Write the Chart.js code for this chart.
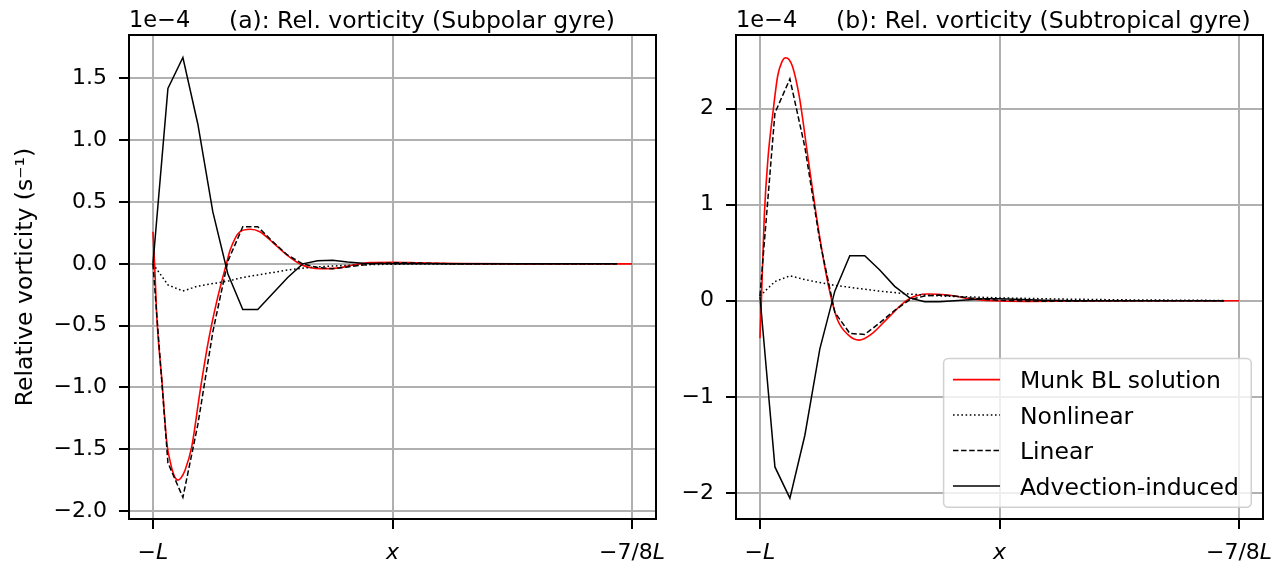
<!DOCTYPE html>
<html lang="en">
<head>
<meta charset="UTF-8">
<title>Relative vorticity</title>
<script src="https://cdn.jsdelivr.net/npm/chart.js@4.4.1/dist/chart.umd.min.js"></script>
<style>
    body {
        margin: 0;
        background: #fff;
    }
    .wrap {
        position: relative;
        width: 1284px;
        height: 568px;
    }
    .panel {
        position: absolute;
        top: 0;
        height: 568px;
    }
    #panelA { left: 0; width: 690px; }
    #panelB { left: 660px; width: 624px; }
</style>
</head>
<body>
<div class="wrap">
    <div class="panel" id="panelA"><canvas id="chartA"></canvas></div>
    <div class="panel" id="panelB"><canvas id="chartB"></canvas></div>
</div>
<script>
    // Model grid, 0 = -L and 1 = -7/8 L (vorticity in units of 1e-4 s^-1)
    const gridX = [0, 0.03125, 0.0625, 0.09375, 0.125, 0.15625, 0.1875, 0.21875,
        0.25, 0.28125, 0.3125, 0.34375, 0.375, 0.40625, 0.4375, 0.46875,
        0.5, 0.53125, 0.5625, 0.59375, 0.625, 0.65625, 0.6875, 0.71875,
        0.75, 0.78125, 0.8125, 0.84375, 0.875, 0.90625, 0.9375, 0.96875];

    // (a) subpolar gyre
    const nonlinearA = [0, -0.17, -0.22, -0.18, -0.16, -0.14, -0.11, -0.09,
        -0.07, -0.05, -0.035, -0.025, -0.018, -0.012, -0.008, -0.005,
        -0.003, -0.002, -0.002, -0.001, -0.001, -0.001, 0, 0,
        0, 0, 0, 0, 0, 0, 0, 0];
    const linearA = [0, -1.61, -1.89, -1.30, -0.55, 0.02, 0.30, 0.30,
        0.18, 0.07, 0.0, -0.03, -0.04, -0.025, -0.01, 0.003,
        0.008, 0.008, 0.005, 0.003, 0.001, 0, 0, 0,
        0, 0, 0, 0, 0, 0, 0, 0];
    const advectionA = [0, 1.42, 1.67, 1.13, 0.42, -0.08, -0.37, -0.37,
        -0.24, -0.11, 0.0, 0.025, 0.03, 0.015, 0.005, 0.002,
        0.001, 0, 0, 0, 0, 0, 0, 0,
        0, 0, 0, 0, 0, 0, 0, 0];
    const munkXA = [0, 0.004, 0.008, 0.019, 0.029, 0.036, 0.042, 0.047, 0.052, 0.058,
        0.067, 0.081, 0.098, 0.115, 0.134, 0.154, 0.161, 0.182, 0.203, 0.223,
        0.251, 0.280, 0.311, 0.349, 0.384, 0.418, 0.453, 0.501, 0.557, 0.641, 0.766, 1.0];
    const munkYA = [0.26, -0.05, -0.43, -0.96, -1.45, -1.60, -1.69, -1.735, -1.75, -1.735,
        -1.67, -1.48, -1.04, -0.64, -0.29, 0.01, 0.11, 0.26, 0.28, 0.26,
        0.17, 0.07, -0.01, -0.04, -0.035, -0.01, 0.01, 0.013, 0.008, 0.002, 0, 0];

    // (b) subtropical gyre
    const nonlinearB = [0.05, 0.20, 0.26, 0.22, 0.19, 0.16, 0.14, 0.12,
        0.10, 0.085, 0.07, 0.06, 0.05, 0.045, 0.04, 0.035,
        0.03, 0.027, 0.024, 0.021, 0.018, 0.016, 0.014, 0.012,
        0.01, 0.009, 0.008, 0.007, 0.006, 0.005, 0.004, 0.003];
    const linearB = [0.05, 1.955, 2.31, 1.60, 0.62, -0.12, -0.34, -0.35,
        -0.23, -0.10, 0.01, 0.05, 0.06, 0.05, 0.03, 0.015,
        0.005, 0.0, -0.003, -0.004, -0.003, -0.002, -0.001, 0,
        0, 0, 0, 0, 0, 0, 0, 0];
    const advectionB = [0.045, -1.73, -2.055, -1.40, -0.50, 0.10, 0.47, 0.47,
        0.32, 0.15, 0.03, -0.01, -0.01, 0.0, 0.01, 0.02,
        0.02, 0.015, 0.01, 0.005, 0.003, 0.001, 0, 0,
        0, 0, 0, 0, 0, 0, 0, 0];
    const munkXB = [0, 0.003, 0.009, 0.017, 0.027, 0.037, 0.046, 0.054, 0.061, 0.068,
        0.082, 0.100, 0.117, 0.134, 0.148, 0.162, 0.183, 0.207, 0.232, 0.267,
        0.308, 0.350, 0.392, 0.440, 0.50, 0.56, 0.65, 0.8, 1.0];
    const munkYB = [-0.39, 0.0, 0.88, 1.50, 1.955, 2.34, 2.49, 2.53, 2.51, 2.44,
        2.13, 1.50, 0.91, 0.39, 0.045, -0.20, -0.35, -0.41, -0.35, -0.18,
        0.01, 0.07, 0.06, 0.02, -0.003, -0.006, -0.003, 0, 0];

    const seriesLabels = ['Munk BL solution', 'Nonlinear', 'Linear', 'Advection-induced'];
    const xTicks = [0, 0.5, 1];
    const xTickParts = [[['\u2212', false], ['L', true]], [['x', true]], [['\u22127/8', false], ['L', true]]];
    const yTicksA = [-2.0, -1.5, -1.0, -0.5, 0.0, 0.5, 1.0, 1.5];
    const yTicksB = [-2, -1, 0, 1, 2];

    const FONT = '"DejaVu Sans", sans-serif';

    function pts(xs, ys) {
        return xs.map((x, i) => ({ x: x, y: ys[i] }));
    }

    function fmtTick(v, digits) {
        const s = (Math.abs(v) < 1e-9 ? 0 : v).toFixed(digits);
        return s.replace('-', '\u2212');
    }

    // draws text made of upright and italic runs, centred on cx
    function drawRuns(ctx, runs, cx, y, size) {
        const fonts = runs.map(r => (r[1] ? 'italic ' : '') + size + 'px ' + FONT);
        const widths = runs.map((r, i) => { ctx.font = fonts[i]; return ctx.measureText(r[0]).width; });
        let x = cx - widths.reduce((a, b) => a + b, 0) / 2;
        runs.forEach((r, i) => {
            ctx.font = fonts[i];
            ctx.fillText(r[0], x, y);
            x += widths[i];
        });
    }

    // frame, title, offset text, x tick labels and y label
    function panelDecor(info) {
        return {
            id: 'panelDecor',
            afterDraw(chart) {
                const ctx = chart.ctx, a = chart.chartArea, xs = chart.scales.x;
                ctx.save();
                ctx.strokeStyle = '#000';
                ctx.lineWidth = 2;
                ctx.strokeRect(a.left, a.top, a.right - a.left, a.bottom - a.top);

                ctx.fillStyle = '#000';
                ctx.textBaseline = 'alphabetic';
                ctx.textAlign = 'left';
                ctx.font = '23.5px ' + FONT;
                ctx.fillText(info.title, a.left + 100, 28);
                ctx.font = '22.5px ' + FONT;
                ctx.fillText('1e\u22124', a.left, 27);

                xTicks.forEach((v, i) => drawRuns(ctx, xTickParts[i], xs.getPixelForValue(v), a.bottom + 40, 22));

                if (info.ylabel) {
                    ctx.translate(31.5, (a.top + a.bottom) / 2);
                    ctx.rotate(-Math.PI / 2);
                    ctx.textAlign = 'center';
                    ctx.font = '23.5px ' + FONT;
                    ctx.fillText(info.ylabel, 0, 0);
                }
                ctx.restore();
            }
        };
    }

    // matplotlib-style legend box in the lower right corner
    const legendBox = {
        id: 'legendBox',
        afterDraw(chart) {
            const ctx = chart.ctx, a = chart.chartArea;
            const fs = 23.5, pad = 0.4 * fs, handle = 2 * fs, gap = 0.85 * fs;
            const rowH = 23.7, spacing = 0.5 * fs;
            const items = chart.data.datasets;
            ctx.save();
            ctx.font = fs + 'px ' + FONT;
            const tw = Math.max(...items.map(d => ctx.measureText(d.label).width));
            const w = 2 * pad + handle + gap + tw + 3;
            const h = 2 * pad + items.length * rowH + (items.length - 1) * spacing;
            const bx = a.right - 0.5 * fs - w, by = a.bottom - 0.5 * fs - h;
            ctx.beginPath();
            ctx.roundRect(bx, by, w, h, 0.2 * fs);
            ctx.fillStyle = 'rgba(255,255,255,0.8)';
            ctx.fill();
            ctx.strokeStyle = 'rgba(204,204,204,0.9)';
            ctx.lineWidth = 1.5;
            ctx.stroke();
            items.forEach((d, i) => {
                const cy = by + pad + rowH / 2 + i * (rowH + spacing);
                ctx.beginPath();
                ctx.setLineDash(d.borderDash || []);
                ctx.strokeStyle = d.borderColor;
                ctx.lineWidth = d.borderWidth;
                ctx.moveTo(bx + pad, cy);
                ctx.lineTo(bx + pad + handle, cy);
                ctx.stroke();
                ctx.setLineDash([]);
                ctx.fillStyle = '#000';
                ctx.textAlign = 'left';
                ctx.textBaseline = 'alphabetic';
                ctx.fillText(d.label, bx + pad + handle + gap, cy + 8.5);
            });
            ctx.restore();
        }
    };

    function makeDatasets(munkX, munkY, nonlinear, linear, advection) {
        return [{
            label: seriesLabels[0],
            data: pts(munkX, munkY),
            borderColor: '#ff0000',
            borderWidth: 1.6,
            cubicInterpolationMode: 'monotone',
            order: 4
        }, {
            label: seriesLabels[1],
            data: pts(gridX, nonlinear),
            borderColor: '#000000',
            borderWidth: 1.5,
            borderDash: [1.6, 2.6],
            order: 3
        }, {
            label: seriesLabels[2],
            data: pts(gridX, linear),
            borderColor: '#000000',
            borderWidth: 1.5,
            borderDash: [5.5, 2.6],
            order: 2
        }, {
            label: seriesLabels[3],
            data: pts(gridX, advection),
            borderColor: '#000000',
            borderWidth: 1.5,
            order: 1
        }];
    }

    function makeOptions(yMin, yMax, yTicks, digits, axisWidth, padRight) {
        const grid = { color: '#b0b0b0', lineWidth: 2, tickColor: '#000', tickWidth: 2, tickLength: 10 };
        return {
            responsive: true,
            maintainAspectRatio: false,
            animation: false,
            events: [],
            layout: { padding: { top: 35, right: padRight, bottom: 0, left: 0 } },
            elements: { point: { radius: 0 }, line: { tension: 0 } },
            plugins: { legend: { display: false }, tooltip: { enabled: false }, title: { display: false } },
            scales: {
                x: {
                    type: 'linear',
                    min: -0.05,
                    max: 1.05,
                    afterBuildTicks: s => { s.ticks = xTicks.map(v => ({ value: v })); },
                    afterFit: s => { s.height = 49; },
                    ticks: { display: false },
                    grid: grid,
                    border: { display: false }
                },
                y: {
                    type: 'linear',
                    min: yMin,
                    max: yMax,
                    afterBuildTicks: s => { s.ticks = yTicks.map(v => ({ value: v })); },
                    afterFit: s => { s.width = axisWidth; },
                    ticks: {
                        callback: v => fmtTick(v, digits),
                        font: { family: FONT, size: 22 },
                        color: '#000',
                        padding: 12
                    },
                    grid: grid,
                    border: { display: false }
                }
            }
        };
    }

    new Chart(document.getElementById('chartA'), {
        type: 'line',
        data: { datasets: makeDatasets(munkXA, munkYA, nonlinearA, linearA, advectionA) },
        options: makeOptions(-2.065, 1.852, yTicksA, 1, 129, 34),
        plugins: [panelDecor({ title: '(a): Rel. vorticity (Subpolar gyre)', ylabel: 'Relative vorticity (s\u207B\u00B9)' })]
    });

    new Chart(document.getElementById('chartB'), {
        type: 'line',
        data: { datasets: makeDatasets(munkXB, munkYB, nonlinearB, linearB, advectionB) },
        options: makeOptions(-2.272, 2.767, yTicksB, 0, 76, 21),
        plugins: [panelDecor({ title: '(b): Rel. vorticity (Subtropical gyre)' }), legendBox]
    });
</script>
</body>
</html>
